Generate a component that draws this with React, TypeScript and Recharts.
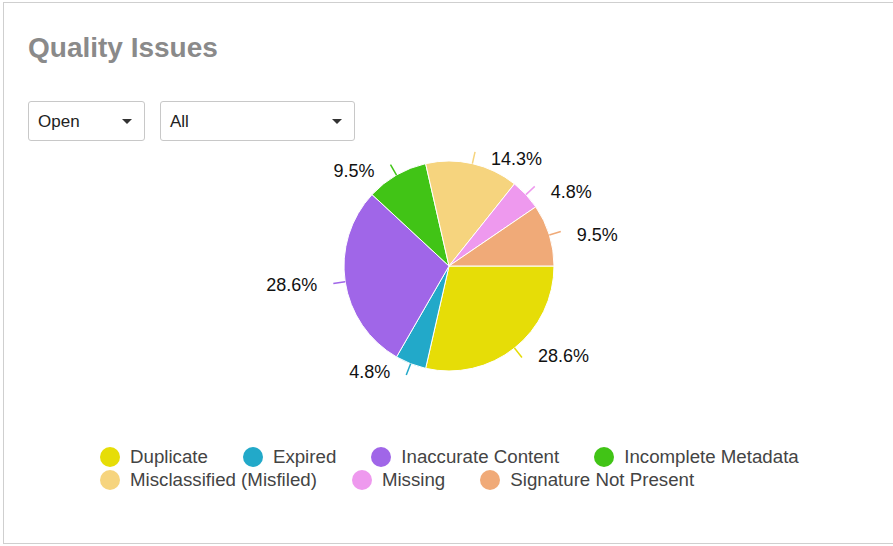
import { FC } from 'react';
import { PieChart, Pie, Cell, Legend } from 'recharts';

const categories = [
  'Duplicate',
  'Expired',
  'Inaccurate Content',
  'Incomplete Metadata',
  'Misclassified (Misfiled)',
  'Missing',
  'Signature Not Present',
];
const issueCounts = [6, 1, 6, 2, 3, 1, 2];
const sliceColors = ['#e6dd07', '#22a9c9', '#a066e8', '#41c416', '#f6d47e', '#ee99ee', '#f0aa78'];

const data = categories.map((name, i) => ({ name, value: issueCounts[i] }));

const RADIAN = Math.PI / 180;
const FONT = 'Arial, "Liberation Sans", Helvetica, sans-serif';

const renderLabel = (props: any) => {
  const { cx, cy, midAngle, outerRadius, percent, index } = props;
  const cos = Math.cos(-midAngle * RADIAN);
  const sin = Math.sin(-midAngle * RADIAN);
  const x1 = cx + outerRadius * cos;
  const y1 = cy + outerRadius * sin;
  const x2 = cx + (outerRadius + 12) * cos;
  const y2 = cy + (outerRadius + 12) * sin;
  const right = cos >= 0;
  return (
    <g>
      <line x1={x1} y1={y1} x2={x2} y2={y2} stroke={sliceColors[index]} strokeWidth={1.5} />
      <text
        x={x2 + (right ? 16 : -16)}
        y={cy + (outerRadius + 7) * sin + 2}
        textAnchor={right ? 'start' : 'end'}
        dominantBaseline="central"
        fill="#111"
        fontSize={18}
        fontFamily={FONT}
      >
        {(percent * 100).toFixed(1)}%
      </text>
    </g>
  );
};

const LegendBox: FC = () => (
  <div style={{ display: 'flex', flexWrap: 'wrap', columnGap: 35, rowGap: 1, width: 720, fontFamily: FONT }}>
    {categories.map((name, i) => (
      <div key={name} style={{ display: 'flex', alignItems: 'center', height: 22 }}>
        <span
          style={{
            display: 'inline-block',
            width: 20,
            height: 20,
            borderRadius: 10,
            background: sliceColors[i],
            marginRight: 10,
          }}
        />
        <span style={{ fontSize: 18.7, color: '#444' }}>{name}</span>
      </div>
    ))}
  </div>
);

const Dropdown: FC<{ label: string; left: number; width: number }> = ({ label, left, width }) => (
  <div
    style={{
      position: 'absolute',
      left,
      top: 101,
      width,
      height: 40,
      boxSizing: 'border-box',
      border: '1px solid #c8c8c8',
      borderRadius: 3,
      background: '#fff',
      fontFamily: FONT,
      fontSize: 17,
      color: '#222',
    }}
  >
    <span style={{ position: 'absolute', left: 9, top: 10 }}>{label}</span>
    <span
      style={{
        position: 'absolute',
        right: 12,
        top: 17,
        width: 0,
        height: 0,
        borderLeft: '5px solid transparent',
        borderRight: '5px solid transparent',
        borderTop: '5px solid #333',
      }}
    />
  </div>
);

const App: FC = () => {
  return (
    <div style={{ position: 'absolute', left: 0, top: 0, width: 893, height: 546, background: '#fff', overflow: 'hidden' }}>
      <div
        style={{
          position: 'absolute',
          left: 3,
          top: 2,
          width: 900,
          height: 542,
          boxSizing: 'border-box',
          border: '1px solid #cfcfcf',
        }}
      />
      <div
        style={{
          position: 'absolute',
          left: 28,
          top: 32,
          fontFamily: FONT,
          fontWeight: 'bold',
          fontSize: 28,
          color: '#8a8a8a',
        }}
      >
        Quality Issues
      </div>
      <Dropdown label="Open" left={28} width={117} />
      <Dropdown label="All" left={160} width={195} />
      <div style={{ position: 'absolute', left: 0, top: 0 }}>
        <PieChart width={893} height={546} margin={{ top: 0, right: 0, bottom: 0, left: 0 }}>
          <Pie
            data={data}
            dataKey="value"
            nameKey="name"
            cx={449}
            cy={266}
            outerRadius={105}
            startAngle={0}
            endAngle={-360}
            stroke="#fff"
            strokeWidth={1}
            label={renderLabel}
            labelLine={false}
            isAnimationActive={false}
          >
            {data.map((d, i) => (
              <Cell key={d.name} fill={sliceColors[i]} />
            ))}
          </Pie>
          <Legend
            content={() => <LegendBox />}
            wrapperStyle={{ position: 'absolute', left: 100, top: 446, width: 720 }}
          />
        </PieChart>
      </div>
    </div>
  );
};

export default App;
